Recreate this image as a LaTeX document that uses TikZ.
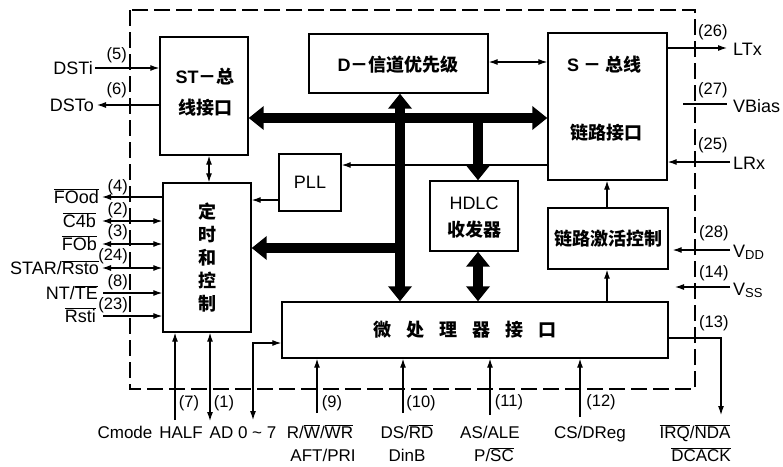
\documentclass[tikz,border=0pt]{standalone}
\usepackage{fontspec}
\setmainfont{Liberation Sans}
\newfontfamily\cjk{Noto Sans CJK SC}
\usetikzlibrary{arrows.meta}
\newcommand{\ovl}[1]{\ensuremath{\overline{\mbox{#1}}}}
\tikzset{
  lab/.style={font=\fontsize{18}{20}\selectfont, inner sep=0pt, text height=13pt, text depth=0pt},
  botlab/.style={font=\fontsize{17}{20}\selectfont, inner sep=0pt, text height=12.5pt, text depth=0pt},
  pinlab/.style={font=\fontsize{16.5}{18}\selectfont, inner sep=0pt},
  box/.style={draw, line width=1.4pt, inner sep=0pt},
  cjkt/.style={font=\cjk\bfseries\fontsize{18}{23}\selectfont, inner sep=0pt, align=center},
  latt/.style={font=\fontsize{18}{20}\selectfont, inner sep=0pt},
  conn/.style={line width=1.1pt, -{Latex[length=9pt,width=6pt]}},
  conntwo/.style={line width=1.1pt, {Latex[length=9pt,width=6pt]}-{Latex[length=9pt,width=6pt]}},
  plain/.style={line width=1.1pt},
  bus/.style={line width=10pt, -{Triangle[length=15pt,width=23pt]}},
  bustwo/.style={line width=10pt, {Triangle[length=15pt,width=23pt]}-{Triangle[length=15pt,width=23pt]}},
  frame/.style={line width=1.5pt, dash pattern=on 16pt off 6pt}
}
\begin{document}
\begin{tikzpicture}[x=1pt,y=-1pt]
\fill[white] (0,0) rectangle (783,466);
\useasboundingbox (0,0) rectangle (783,466);

% dashed chip outline
\draw[frame] (130,10) rectangle (695,389);

% boxes
\node[box, minimum width=88pt, minimum height=118pt] (st) at (204,96) {};
\node[box, minimum width=88pt, minimum height=149pt] (tm) at (207,257.5) {};
\node[box, minimum width=179pt, minimum height=59pt] (dch) at (398.5,63.5) {};
\node[box, minimum width=119pt, minimum height=147pt] (sbus) at (607.5,106.5) {};
\node[box, minimum width=62pt, minimum height=57pt] (pll) at (310,182.5) {};
\node[box, minimum width=88pt, minimum height=70pt] (hdlc) at (474,216) {};
\node[box, minimum width=120pt, minimum height=61pt] (act) at (608,238.5) {};
\node[box, minimum width=386pt, minimum height=56pt] (mp) at (475,330) {};

% box texts
\node[cjkt] (sttA) at (205,77) {{\fontspec{Liberation Sans}\bfseries ST}－总};
\node[cjkt] (sttB) at (205,108) {线接口};
\node[cjkt] (tmt) at (207,258) {定\\时\\和\\控\\制};
\node[cjkt] (dcht) at (398,65) {{\fontspec{Liberation Sans}\bfseries D}－信道优先级};
\node[cjkt] (sbtA) at (604,65) {{\fontspec{Liberation Sans}\bfseries S}\hspace{4pt}－\hspace{4pt}总线};
\node[cjkt] (sbtB) at (606,133) {链路接口};
\node[latt] (pllt) at (310,182) {PLL};
\node[latt] (hdltA) at (474,203) {HDLC};
\node[cjkt] (hdltB) at (474,230) {收发器};
\node[cjkt] (actt) at (608,239) {链路激活控制};
\node[cjkt] (mpt) at (465,330) {微\hspace{15pt}处\hspace{15pt}理\hspace{15pt}器\hspace{15pt}接\hspace{15pt}口};

% helper coordinates
\coordinate (bh) at (0,118);
\coordinate (bv) at (400,0);
\coordinate (hx) at (478,0);
\coordinate (ly) at (0,248);
\coordinate (dy) at (0,62);
\coordinate (sx) at (209,0);
\coordinate (py) at (0,165);
\coordinate (pz) at (0,200);
\coordinate (ax) at (607,0);

% thin internal connectors
\draw[conntwo] (dch.east |- dy) -- (sbus.west |- dy);
\draw[conntwo] (st.south -| sx) -- (tm.north -| sx);
\draw[conn] (sbus.west |- py) -- (pll.east |- py);
\draw[conn] (pll.west |- pz) -- (tm.east |- pz);
\draw[conn] (act.north -| ax) -- (sbus.south -| ax);
\draw[conn] (mp.north -| ax) -- (act.south -| ax);

% thick buses
\draw[bustwo] (st.east |- bh) -- (sbus.west |- bh);
\draw[bustwo] (dch.south -| bv) -- (mp.north -| bv);
\draw[bus] (hx |- bh) -- (hdlc.north -| hx);
\draw[bus] (bv |- ly) -- (tm.east |- ly);
\draw[bustwo] (hdlc.south -| hx) -- (mp.north -| hx);

% left side signals
\node[lab, anchor=east] (dsti) at (93,68) {DSTi};
\node[lab, anchor=east] (dsto) at (94,105) {DSTo};
\node[pinlab, anchor=east] (p5) at (127,55) {(5)};
\node[pinlab, anchor=east] (p6) at (127,90) {(6)};
\draw[conn] ([xshift=2pt]dsti.east) -- (st.west |- dsti.east);
\draw[conn] (st.west |- dsto.east) -- ([xshift=3pt]dsto.east);

\node[lab, anchor=east] (food) at (99,197) {\ovl{FOod}};
\node[lab, anchor=east] (cfb) at (96,221) {\ovl{C4b}};
\node[lab, anchor=east] (fob) at (97,244) {\ovl{FOb}};
\node[lab, anchor=east] (star) at (99,268) {STAR/\ovl{Rsto}};
\node[lab, anchor=east] (ntte) at (98,293) {NT/\ovl{TE}};
\node[lab, anchor=east] (rsti) at (96,316) {\ovl{Rsti}};
\node[pinlab, anchor=east] (p4) at (128,187) {(4)};
\node[pinlab, anchor=east] (p2) at (128,210) {(2)};
\node[pinlab, anchor=east] (p3) at (128,232) {(3)};
\node[pinlab, anchor=east] (p24) at (128,256) {(24)};
\node[pinlab, anchor=east] (p8) at (128,282) {(8)};
\node[pinlab, anchor=east] (p23) at (128,305) {(23)};
\draw[conn] (tm.west |- food.east) -- ([xshift=3pt]food.east);
\draw[conntwo] ([xshift=6pt]cfb.east) -- (tm.west |- cfb.east);
\draw[conntwo] ([xshift=5pt]fob.east) -- (tm.west |- fob.east);
\draw[conntwo] ([xshift=3pt]star.east) -- (tm.west |- star.east);
\draw[conn] ([xshift=5pt]ntte.east) -- (tm.west |- ntte.east);
\draw[conn] ([xshift=7pt]rsti.east) -- (tm.west |- rsti.east);

% right side signals
\coordinate (ltx) at (727,48);
\coordinate (vbA) at (683,104);
\coordinate (vbB) at (727,104);
\coordinate (lrx) at (730,162);
\coordinate (vdd) at (730,250);
\coordinate (vssA) at (730,287);
\coordinate (vssB) at (675,287);
\draw[conn] (sbus.east |- ltx) -- (ltx);
\draw[plain] (vbA) -- (vbB);
\draw[conn] (lrx) -- (sbus.east |- lrx);
\draw[conn] (vdd) -- ([xshift=4pt]act.east |- vdd);
\draw[conn] (vssA) -- (vssB);
\node[lab, anchor=west] (ltxl) at (733,49) {LTx};
\node[lab, anchor=west] (vbl) at (733,106) {VBias};
\node[lab, anchor=west] (lrxl) at (733,163) {LRx};
\node[lab, anchor=west] (vddl) at (733,251) {V\raisebox{-2pt}{\fontsize{13}{13}\selectfont DD}};
\node[lab, anchor=west] (vssl) at (733,289) {V\raisebox{-2pt}{\fontsize{13}{13}\selectfont SS}};
\node[pinlab, anchor=west] (p26) at (698,32) {(26)};
\node[pinlab, anchor=west] (p27) at (698,90) {(27)};
\node[pinlab, anchor=west] (p25) at (698,145) {(25)};
\node[pinlab, anchor=west] (p28) at (699,233) {(28)};
\node[pinlab, anchor=west] (p14) at (699,273) {(14)};
\node[pinlab, anchor=west] (p13) at (699,323) {(13)};

% bottom signals
\coordinate (bA) at (175,420);
\coordinate (bB) at (210,421);
\coordinate (bC) at (253,420);
\coordinate (bCt) at (253,343);
\coordinate (bD) at (317,413);
\coordinate (bE) at (403,413);
\coordinate (bF) at (490,415);
\coordinate (bG) at (580,417);
\coordinate (bHt) at (721,338);
\coordinate (bH) at (721,415);
\draw[plain, -{Latex[length=9pt,width=6pt]}] (bA) -- (tm.south -| bA);
\draw[conntwo] (bB) -- (tm.south -| bB);
\draw[conntwo] (bC) -- (bCt) -- (mp.west |- bCt);
\draw[conn] (bD) -- (mp.south -| bD);
\draw[conn] (bE) -- (mp.south -| bE);
\draw[conn] (bF) -- (mp.south -| bF);
\draw[conn] (bG) -- (mp.south -| bG);
\draw[conn] (mp.east |- bHt) -- (bHt) -- (bH);

\node[pinlab] (p7) at (189,403) {(7)};
\node[pinlab] (p1) at (224,403) {(1)};
\node[pinlab] (p9) at (332,403) {(9)};
\node[pinlab] (p10) at (421,403) {(10)};
\node[pinlab] (p11) at (509,402) {(11)};
\node[pinlab] (p12) at (601,402) {(12)};

\node[botlab] (cmode) at (125,432) {Cmode};
\node[botlab] (half) at (181,432) {HALF};
\node[botlab] (adl) at (243,432) {AD 0 \char`\~{} 7};
\node[botlab] (rw) at (320,432) {R/\ovl{W}/\ovl{WR}};
\node[botlab] (aft) at (323,455) {AFT/PRI};
\node[botlab] (ds) at (407,432) {DS/\ovl{RD}};
\node[botlab] (dinb) at (407,455) {DinB};
\node[botlab] (as) at (490,432) {AS/ALE};
\node[botlab] (psc) at (494,455) {P/\ovl{SC}};
\node[botlab] (cs) at (590,432) {CS/DReg};
\node[botlab] (irq) at (695,432) {\ovl{IRQ}/\ovl{NDA}};
\node[botlab] (dcack) at (701,455) {\ovl{DCACK}};
\end{tikzpicture}
\end{document}
